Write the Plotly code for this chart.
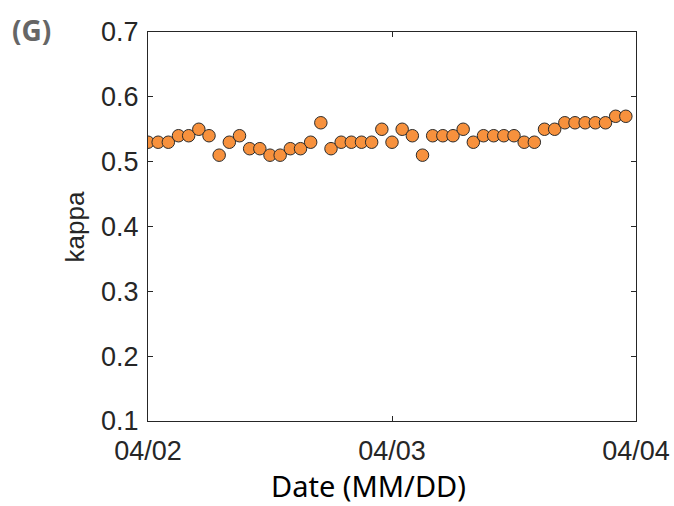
import plotly.graph_objects as go
import pandas as pd

times = pd.date_range("2020-04-02 00:00", periods=48, freq="h")
kappa = [0.53, 0.53, 0.53, 0.54, 0.54, 0.55, 0.54, 0.51, 0.53, 0.54,
         0.52, 0.52, 0.51, 0.51, 0.52, 0.52, 0.53, 0.56, 0.52, 0.53,
         0.53, 0.53, 0.53, 0.55, 0.53, 0.55, 0.54, 0.51, 0.54, 0.54,
         0.54, 0.55, 0.53, 0.54, 0.54, 0.54, 0.54, 0.53, 0.53, 0.55,
         0.55, 0.56, 0.56, 0.56, 0.56, 0.56, 0.57, 0.57]
y_ticks = [0.1, 0.2, 0.3, 0.4, 0.5, 0.6, 0.7]
x_ticks = ["2020-04-02", "2020-04-03", "2020-04-04"]
x_tick_labels = ["04/02", "04/03", "04/04"]

fig = go.Figure()
fig.add_trace(go.Scatter(
    x=times, y=kappa, mode="markers",
    marker=dict(size=12.5, color="#F7913D", line=dict(color="#2b2b2b", width=1)),
    showlegend=False,
))

tick_font = dict(family="Liberation Sans, Arial", size=27, color="#262626")
axis_common = dict(showline=True, linecolor="#262626", linewidth=1, mirror="ticks",
                   ticks="inside", ticklen=5, tickcolor="#262626", showgrid=False,
                   zeroline=False, tickfont=tick_font, automargin=False)

fig.update_xaxes(range=["2020-04-02", "2020-04-04"], tickvals=x_ticks, ticktext=x_tick_labels,
                 ticklabelstandoff=6, **axis_common)
fig.update_yaxes(range=[0.1, 0.7], tickvals=y_ticks, ticktext=[f"{v:.1f}" for v in y_ticks],
                 ticklabelstandoff=3, **axis_common)

# axis titles
fig.add_annotation(text="Date (MM/DD)", xref="paper", yref="paper", x=0.451, y=-0.166,
                   xanchor="center", yanchor="middle", showarrow=False,
                   font=dict(family="Noto Sans", size=29, color="#000000"))
fig.add_annotation(text="kappa", xref="paper", yref="paper", x=-0.1496, y=0.5,
                   xanchor="center", yanchor="middle", showarrow=False, textangle=-90,
                   font=dict(family="Liberation Sans, Arial", size=26, color="#262626"))
# panel label
fig.add_annotation(text="<b>(G)</b>", xref="paper", yref="paper", x=-0.238, y=1.005,
                   xanchor="center", yanchor="middle", showarrow=False,
                   font=dict(family="Noto Sans", size=28, color="#666666"))

fig.update_layout(width=674, height=506, plot_bgcolor="white", paper_bgcolor="white",
                  margin=dict(l=148, r=38, t=32, b=85))

fig.write_html("out.html")
